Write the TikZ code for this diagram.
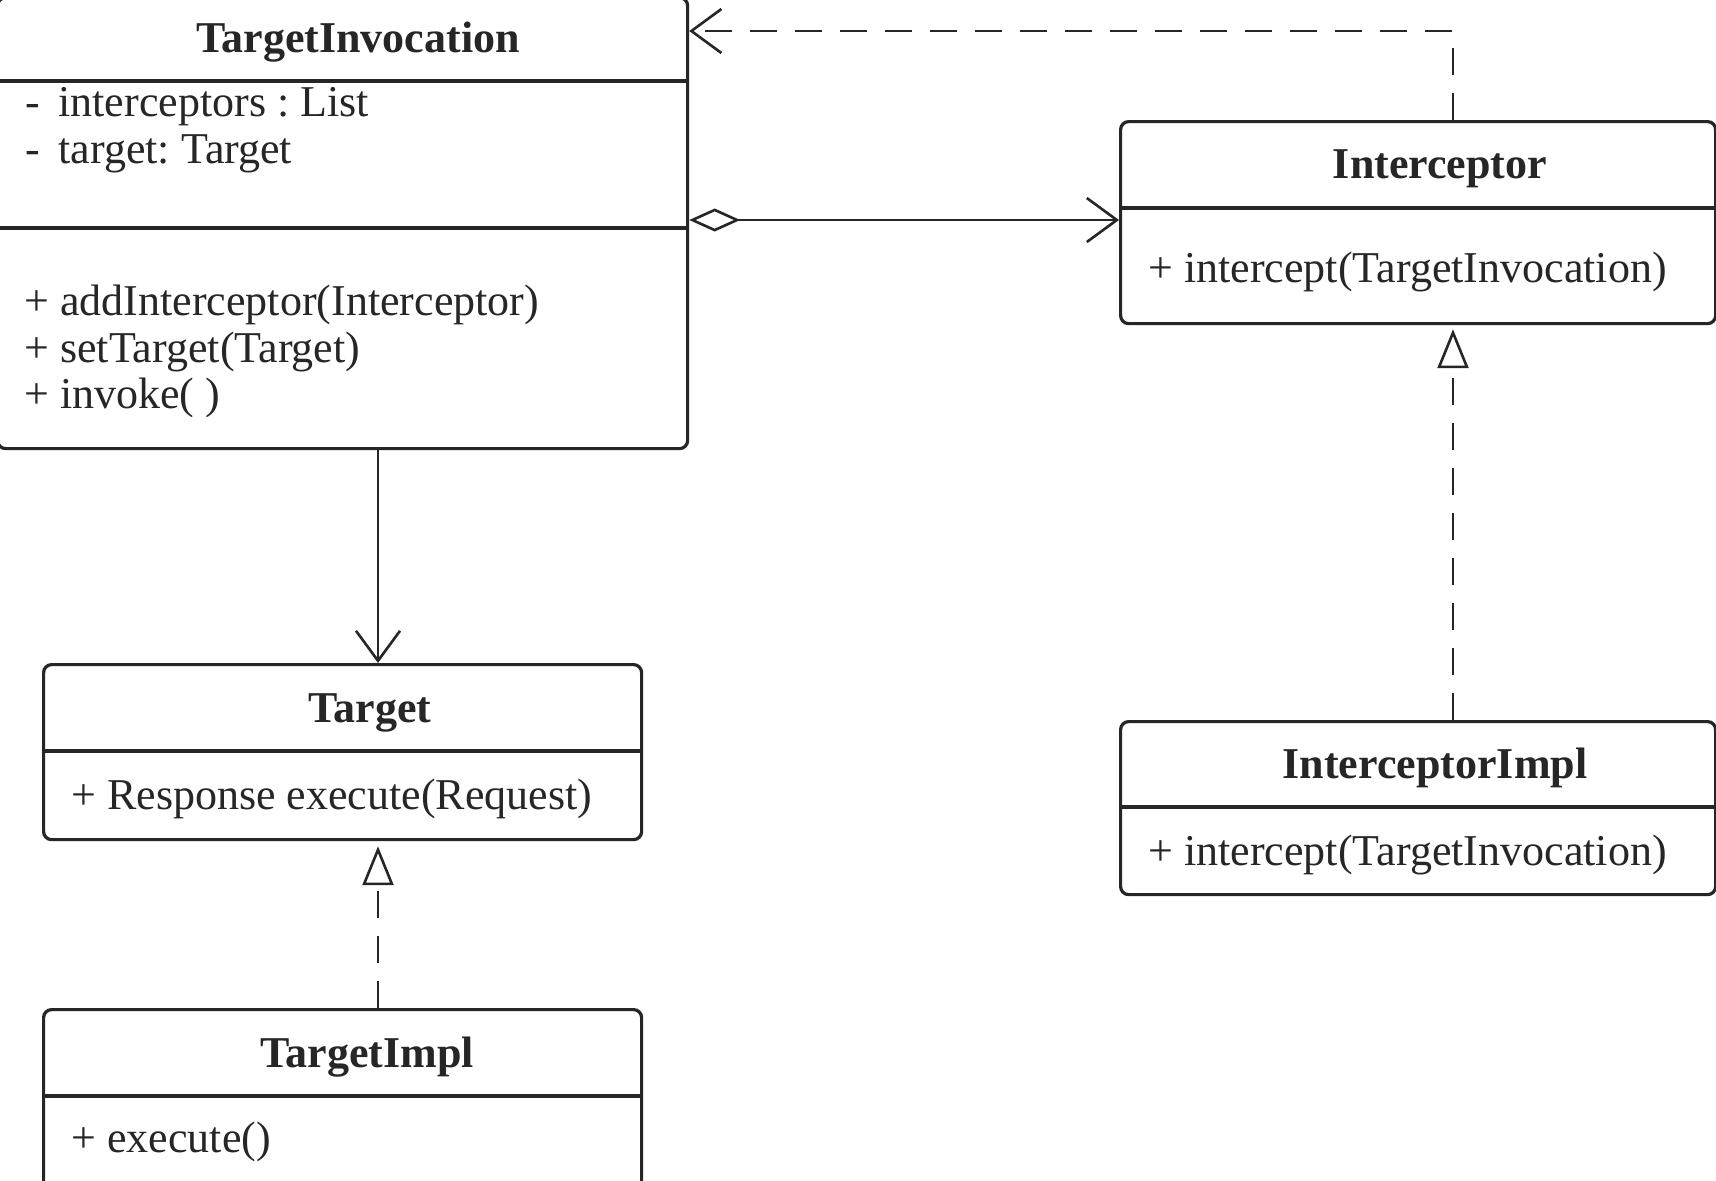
\documentclass[tikz,border=0pt]{standalone}
\usepackage{fontspec}
\setmainfont{Liberation Serif}
\usetikzlibrary{arrows.meta}
\definecolor{ink}{RGB}{38,38,38}
\frenchspacing
\begin{document}
\begin{tikzpicture}[x=0.5pt,y=-0.5pt,
  box/.style={draw=ink, line width=1.6pt, rounded corners=4pt, fill=white, inner sep=0pt, anchor=north west},
  sep/.style={draw=ink, line width=1.6pt},
  ttl/.style={font=\fontsize{22}{26}\selectfont\bfseries\frenchspacing, text=ink, anchor=base, inner sep=0pt},
  mem/.style={font=\fontsize{22}{26}\selectfont\frenchspacing, text=ink, anchor=base west, inner sep=0pt},
  conn/.style={draw=ink, line width=1.3pt},
  dsh/.style={conn, dash pattern=on 13.5pt off 9pt},
  barbtip/.style={-{Straight Barb[length=15pt,width=22pt]}},
  tritip/.style={-{Triangle[open,length=19.5pt,width=15.5pt]}}
]
\useasboundingbox (0,0) rectangle (1716,1180);
\fill[white] (0,0) rectangle (1716,1180);
\clip (0,0) rectangle (1716,1180);

% helper coordinates
\coordinate (agg) at (0,220);
\coordinate (dep) at (1453,31);
\coordinate (colL) at (378,0);
\coordinate (colR) at (1453,0);

% TargetInvocation
\node[box, minimum width=345pt, minimum height=225.5pt] (ti) at (-4,-4) {};
\draw[sep] (-4,81) -- (686,81);
\draw[sep] (-4,228) -- (686,228);
\node[ttl] (tiT) at (358,52) {TargetInvocation};
\node[mem] (tiA1) at (25,116) {-\hspace{0.42em}interceptors : List};
\node[mem] (tiA2) at (25,163) {-\hspace{0.42em}target: Target};
\node[mem] (tiM1) at (24,315) {+ addInterceptor(Interceptor)};
\node[mem] (tiM2) at (24,362) {+ setTarget(Target)};
\node[mem] (tiM3) at (24,408) {+ invoke( )};

% Interceptor
\node[box, minimum width=297.5pt, minimum height=101pt] (ic) at (1119,120) {};
\draw[sep] (1119,208) -- (1714,208);
\node[ttl] (icT) at (1440,178) {Interceptor};
\node[mem] (icM) at (1148,282) {+ intercept(TargetInvocation)};

% InterceptorImpl
\node[box, minimum width=297.5pt, minimum height=86.5pt] (ii) at (1119,720) {};
\draw[sep] (1119,807) -- (1714,807);
\node[ttl] (iiT) at (1435,778) {InterceptorImpl};
\node[mem] (iiM) at (1148,865) {+ intercept(TargetInvocation)};

% Target
\node[box, minimum width=299pt, minimum height=87.5pt] (tg) at (42,663) {};
\draw[sep] (42,751) -- (640,751);
\node[ttl] (tgT) at (370,722) {Target};
\node[mem] (tgM) at (71,809) {+ Response execute(Request)};

% TargetImpl
\node[box, minimum width=299pt, minimum height=100pt] (tm) at (42,1008) {};
\draw[sep] (42,1096) -- (640,1096);
\node[ttl] (tmT) at (367,1067) {TargetImpl};
\node[mem] (tmM) at (71,1152) {+ execute()};

% connectors
\draw[conn, {Diamond[open,length=25.5pt,width=11.5pt]}-{Straight Barb[length=15pt,width=22pt]}]
  (ti.east |- agg) -- (ic.west |- agg);
\draw[dsh, barbtip] (ic.north -| dep) -- (dep) -- (ti.east |- dep);
\draw[conn, barbtip] (ti.south -| colL) -- (tg.north -| colL);
\draw[dsh, tritip, shorten >=2.5pt] (tm.north -| colL) -- (tg.south -| colL);
\draw[dsh, tritip, shorten >=2pt] (ii.north -| colR) -- (ic.south -| colR);
\end{tikzpicture}
\end{document}
